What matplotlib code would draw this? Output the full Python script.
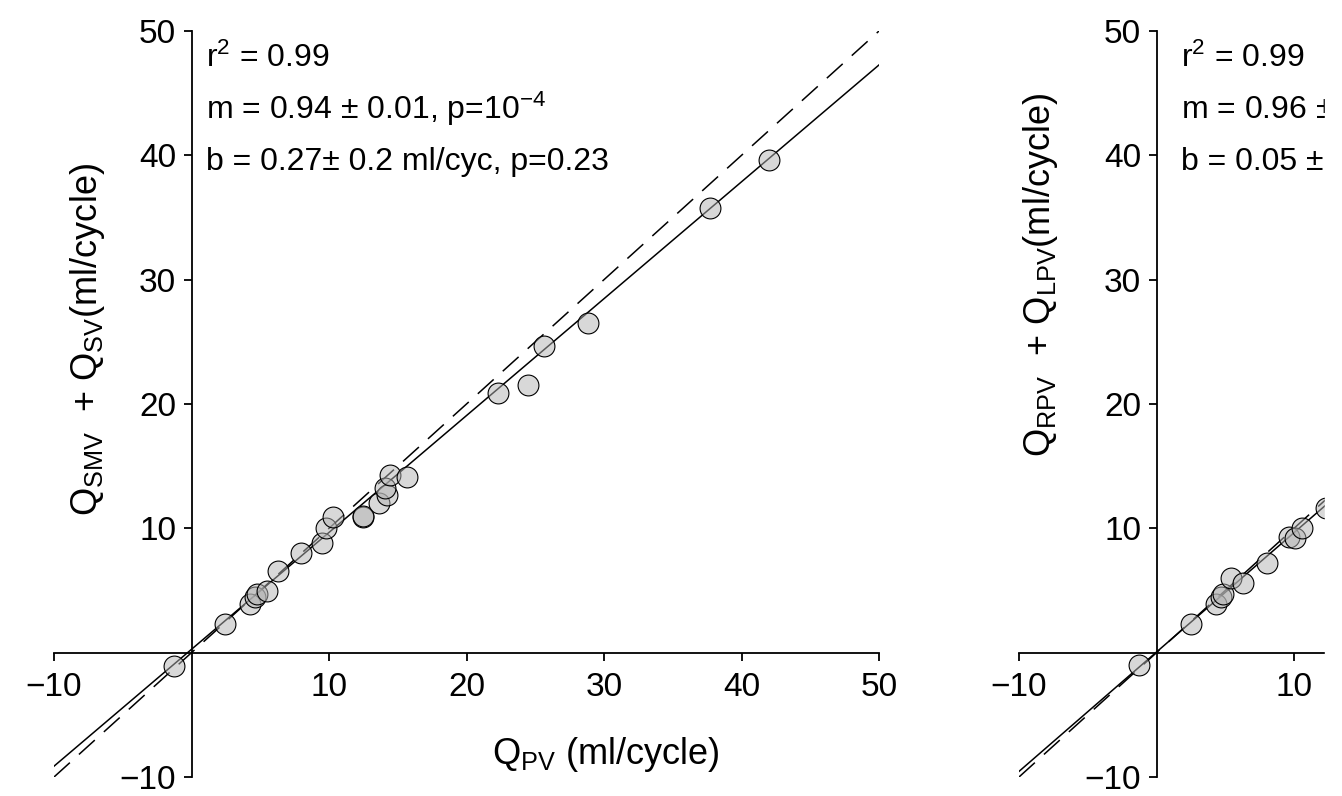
import matplotlib
matplotlib.use('Agg')
import matplotlib.pyplot as plt
from matplotlib.patches import Rectangle
import numpy as np

plt.rcParams['font.family'] = ['Liberation Sans', 'DejaVu Sans']
plt.rcParams['mathtext.fontset'] = 'custom'
plt.rcParams['mathtext.rm'] = 'Liberation Sans'
plt.rcParams['mathtext.it'] = 'Liberation Sans:italic'
plt.rcParams['mathtext.bf'] = 'Liberation Sans:bold'

# left panel: Q_PV vs Q_SMV + Q_SV
pv_x = [-1.3, 2.4, 4.25, 4.6, 4.75, 5.5, 6.3, 7.95, 9.5, 9.8, 10.3, 12.45,
        12.5, 13.65, 14.25, 14.1, 14.4, 15.65, 22.3, 24.5, 25.6, 28.8, 37.7, 42.0]
pv_y = [-1.1, 2.3, 3.9, 4.5, 4.7, 5.0, 6.6, 8.0, 8.8, 10.0, 10.9, 10.9,
        11.0, 12.0, 12.7, 13.25, 14.3, 14.1, 20.9, 21.5, 24.7, 26.5, 35.8, 39.6]
pv_fit = (0.94, 0.27)
pv_text = ['r$^2$ = 0.99',
           'm = 0.94 \u00b1 0.01, p=10$^{-4}$',
           'b = 0.27\u00b1 0.2 ml/cyc, p=0.23']

# right panel: RPV + LPV
rl_x = [-1.3, 2.5, 4.3, 4.7, 4.8, 5.45, 6.3, 8.0, 9.6, 10.05, 10.6, 12.3]
rl_y = [-1.0, 2.3, 3.9, 4.5, 4.7, 6.0, 5.6, 7.2, 9.3, 9.2, 10.0, 11.6]
rl_fit = (0.96, 0.05)
rl_text = ['r$^2$ = 0.99',
           'm = 0.96 \u00b1 0.01, p=10$^{-4}$',
           'b = 0.05 \u00b1 0.2 ml/cyc, p=0.81']

xticks = [-10, 10, 20, 30, 40, 50]
yticks = [-10, 10, 20, 30, 40, 50]
line_x = np.array([-10, 50])

W, H = 1342, 796
fig = plt.figure(figsize=(W / 100, H / 100), dpi=100)


def panel(left_px, xs, ys, fit, texts, text_x):
    ax = fig.add_axes([left_px / W, (H - 777) / H, 825 / W, 746 / H])
    ax.set_xlim(-10, 50)
    ax.set_ylim(-10, 50)
    for s in ['top', 'right']:
        ax.spines[s].set_visible(False)
    ax.spines['left'].set_position(('data', 0))
    ax.spines['bottom'].set_position(('data', 0))
    for s in ['left', 'bottom']:
        ax.spines[s].set_linewidth(1.3)
    ax.set_xticks(xticks)
    ax.set_yticks(yticks)
    ax.tick_params(length=6, width=1.3, labelsize=24, pad=5)
    ax.tick_params(axis='x', pad=8)
    ax.patch.set_visible(False)

    ax.plot(line_x, line_x, color='black', lw=1.1, dashes=(14, 8))
    m, b = fit
    ax.plot(line_x, m * line_x + b, color='black', lw=1.1)
    ax.plot(xs, ys, 'o', ms=15, mfc=(0.7, 0.7, 0.7, 0.5), mec='black',
            mew=0.8, clip_on=False)

    for t, y in zip(texts, [47.1, 42.9, 38.8]):
        ax.text(text_x, y, t, fontsize=23, va='baseline', ha='left')
    return ax


panel(54, pv_x, pv_y, pv_fit, pv_text, 1.05)
panel(1019, rl_x, rl_y, rl_fit, rl_text, 1.75)

fig.text(88 / W, 1 - 340 / H, r'Q$_{\mathrm{SMV}}$  + Q$_{\mathrm{SV}}$(ml/cycle)',
         rotation=90, ha='center', va='center', fontsize=26)
fig.text(606 / W, 1 - 755 / H, r'Q$_{\mathrm{PV}}$ (ml/cycle)',
         ha='center', va='center', fontsize=26)
fig.text(1040 / W, 1 - 275 / H, r'Q$_{\mathrm{RPV}}$  + Q$_{\mathrm{LPV}}$(ml/cycle)',
         rotation=90, ha='center', va='center', fontsize=26)

# the reference is cut off a little before the right edge
fig.add_artist(Rectangle((1325 / W, 0), 1, 1, transform=fig.transFigure,
                         color='white', zorder=100))

fig.savefig('out.png', dpi=100)
